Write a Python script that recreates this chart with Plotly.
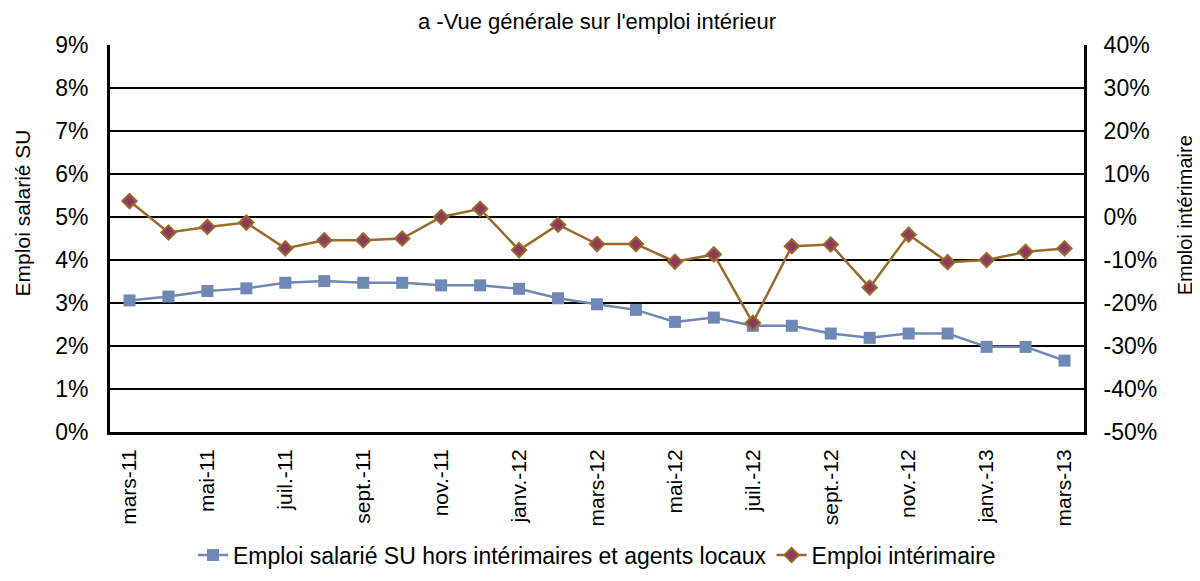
import plotly.graph_objects as go

# monthly series, mars-11 to mars-13
months = ['mars-11', 'avr.-11', 'mai-11', 'juin-11', 'juil.-11', 'août-11', 'sept.-11', 'oct.-11',
          'nov.-11', 'déc.-11', 'janv.-12', 'févr.-12', 'mars-12', 'avr.-12', 'mai-12', 'juin-12',
          'juil.-12', 'août-12', 'sept.-12', 'oct.-12', 'nov.-12', 'déc.-12', 'janv.-13', 'févr.-13',
          'mars-13']
shown_labels = ['mars-11', 'mai-11', 'juil.-11', 'sept.-11', 'nov.-11', 'janv.-12', 'mars-12',
                'mai-12', 'juil.-12', 'sept.-12', 'nov.-12', 'janv.-13', 'mars-13']

# emploi salarié SU hors intérimaires (%), left axis
emploi_su = [3.06, 3.15, 3.28, 3.34, 3.47, 3.51, 3.47, 3.47, 3.41, 3.41, 3.33, 3.11, 2.97,
             2.84, 2.56, 2.66, 2.47, 2.47, 2.29, 2.19, 2.29, 2.29, 1.98, 1.98, 1.66]
# emploi intérimaire (%), right axis
emploi_interim = [3.7, -3.6, -2.3, -1.3, -7.3, -5.4, -5.4, -5.0, 0.0, 1.9, -7.7, -1.8, -6.3,
                  -6.3, -10.4, -8.7, -24.6, -6.8, -6.4, -16.4, -4.1, -10.5, -10.0, -8.1, -7.3]

left_ticks = list(range(0, 10))
right_ticks = list(range(-50, 41, 10))

font = 'Liberation Sans, Arial, sans-serif'

# the page body adds an 8px margin, so the figure is a bit smaller than the window
W, H = 1192, 573

fig = go.Figure()
fig.add_trace(go.Scatter(
    x=months, y=emploi_su, name='Emploi salarié SU hors intérimaires et agents locaux',
    mode='lines+markers', line=dict(color='#6f88b5', width=2.5),
    marker=dict(symbol='square', size=12, color='#6f88b5'),
))
fig.add_trace(go.Scatter(
    x=months, y=emploi_interim, name='Emploi intérimaire', yaxis='y2',
    mode='lines+markers', line=dict(color='#9a6a2a', width=2.5),
    marker=dict(symbol='diamond', size=11, color='#8e3a5c', line=dict(color='#9a6a2a', width=2)),
))

fig.update_layout(
    width=W, height=H,
    paper_bgcolor='white', plot_bgcolor='white',
    margin=dict(l=102, r=116, t=37, b=149),
    font=dict(family=font, size=22, color='black'),
    title=dict(text="a -Vue générale sur l'emploi intérieur", x=0.5, xanchor='center',
               xref='paper', y=1 - 13 / H, yanchor='middle', font=dict(size=22)),
    xaxis=dict(type='category', range=[-0.5, len(months) - 0.5], automargin=False,
               tickmode='array', tickvals=shown_labels, ticktext=shown_labels,
               tickangle=-90, showgrid=False, showline=True, linecolor='black', linewidth=3,
               ticks='', tickfont=dict(size=21), ticklabelstandoff=6),
    yaxis=dict(range=[0, 9], tickvals=left_ticks, ticktext=[f'{v}%' for v in left_ticks],
               automargin=False, showgrid=True, gridcolor='black', gridwidth=2, zeroline=False,
               showline=True, linecolor='black', linewidth=3, tickfont=dict(size=23),
               ticklabelstandoff=14),
    yaxis2=dict(range=[-50, 40], tickvals=right_ticks, ticktext=[f'{v}%' for v in right_ticks],
                overlaying='y', side='right', showgrid=False, zeroline=False, automargin=False,
                showline=True, linecolor='black', linewidth=3, tickfont=dict(size=23),
                ticklabelstandoff=12),
    legend=dict(orientation='h', x=0.5, xanchor='center', yref='container',
                y=1 - 547 / H, yanchor='middle', font=dict(size=23), tracegroupgap=0),
    annotations=[
        dict(text='Emploi salarié SU', xref='paper', yref='paper', x=-0.0903, y=0.565,
             xanchor='center', yanchor='middle', textangle=-90, showarrow=False,
             font=dict(size=21)),
        dict(text='Emploi intérimaire', xref='paper', yref='paper', x=1.1037, y=0.56,
             xanchor='center', yanchor='middle', textangle=-90, showarrow=False,
             font=dict(size=20)),
    ],
)

fig.write_html("out.html")
